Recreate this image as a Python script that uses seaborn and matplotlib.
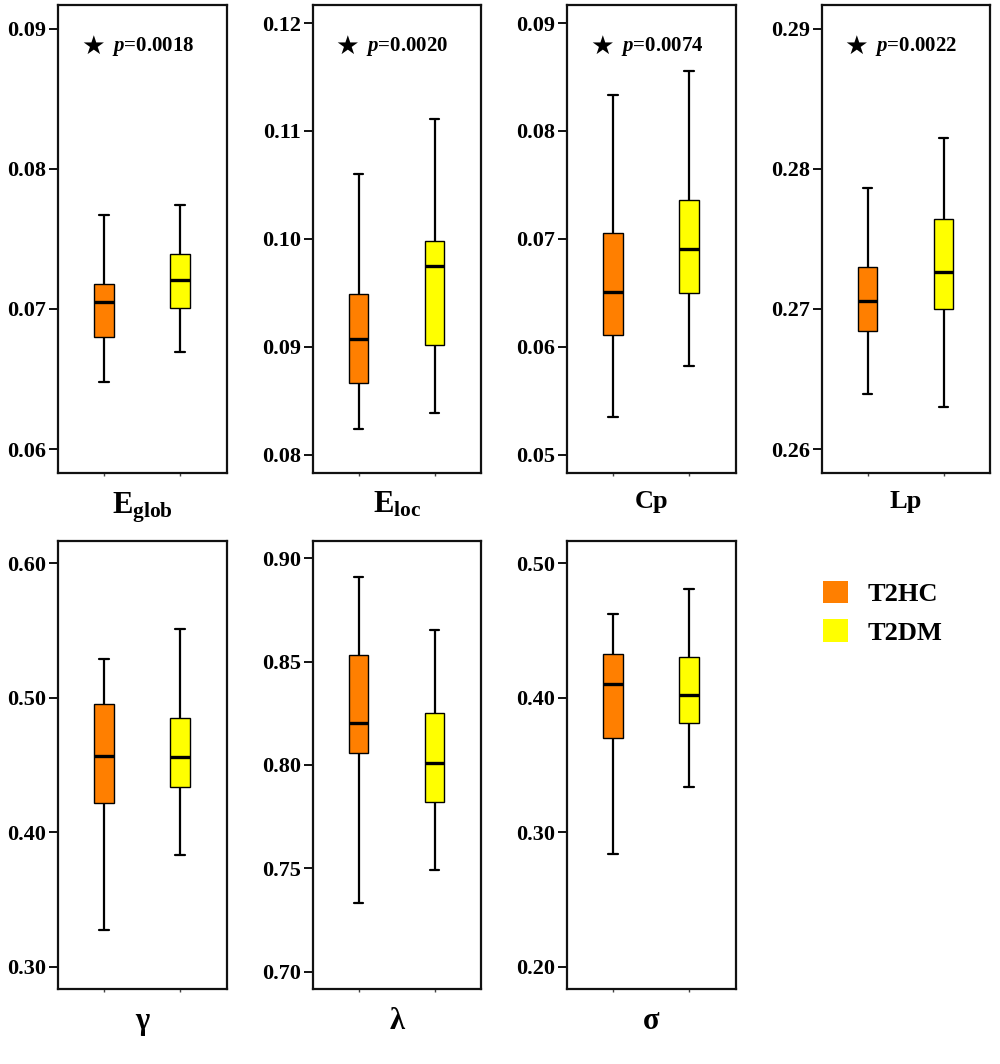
import numpy as np
import pandas as pd
import matplotlib.pyplot as plt
import seaborn as sns
from matplotlib.patches import Patch
from matplotlib.ticker import FormatStrFormatter

# metrics, in panel order
metric_keys = ['Eglob', 'Eloc', 'Cp', 'Lp', 'gamma', 'lambda', 'sigma']
metric_labels = [r'$\mathbf{E}_{\mathbf{glob}}$', r'$\mathbf{E}_{\mathbf{loc}}$',
                 'Cp', 'Lp', 'γ', 'λ', 'σ']
label_sizes = [22, 22, 19, 19, 22, 22, 22]
groups = ['T2HC', 'T2DM']
group_colors = ['#FF7F00', '#FFFF00']

# five-number summaries (min, Q1, median, Q3, max)
t2hc_min = [0.0648, 0.0824, 0.0535, 0.2639, 0.327, 0.7335, 0.284]
t2hc_q1 = [0.0680, 0.0866, 0.0611, 0.2684, 0.422, 0.8056, 0.370]
t2hc_median = [0.0705, 0.0907, 0.0651, 0.2706, 0.457, 0.8201, 0.410]
t2hc_q3 = [0.0718, 0.0949, 0.0705, 0.2730, 0.495, 0.8533, 0.4325]
t2hc_max = [0.0767, 0.1060, 0.0833, 0.2786, 0.529, 0.8909, 0.462]

t2dm_min = [0.0669, 0.0839, 0.0582, 0.2630, 0.383, 0.7493, 0.334]
t2dm_q1 = [0.0701, 0.0902, 0.0650, 0.2700, 0.434, 0.7823, 0.381]
t2dm_median = [0.0721, 0.0975, 0.0691, 0.2726, 0.456, 0.8008, 0.402]
t2dm_q3 = [0.0739, 0.0998, 0.0736, 0.2764, 0.485, 0.8253, 0.430]
t2dm_max = [0.0774, 0.1111, 0.0856, 0.2822, 0.551, 0.8652, 0.481]

p_values = ['0.0018', '0.0020', '0.0074', '0.0022', None, None, None]

y_ticks = [
    [0.06, 0.07, 0.08, 0.09],
    [0.08, 0.09, 0.10, 0.11, 0.12],
    [0.05, 0.06, 0.07, 0.08, 0.09],
    [0.26, 0.27, 0.28, 0.29],
    [0.30, 0.40, 0.50, 0.60],
    [0.70, 0.75, 0.80, 0.85, 0.90],
    [0.20, 0.30, 0.40, 0.50],
]

# long table: the five summary values per group reproduce the boxes exactly
rows = []
for i, key in enumerate(metric_keys):
    for g, stats in zip(groups, [
        (t2hc_min, t2hc_q1, t2hc_median, t2hc_q3, t2hc_max),
        (t2dm_min, t2dm_q1, t2dm_median, t2dm_q3, t2dm_max),
    ]):
        for s in stats:
            rows.append({'metric': key, 'group': g, 'value': s[i]})
df = pd.DataFrame(rows)

sns.set_theme(style='ticks')
plt.rcParams['font.family'] = ['Liberation Serif', 'DejaVu Serif']
plt.rcParams['font.weight'] = 'bold'
plt.rcParams['text.color'] = 'black'
plt.rcParams['axes.labelcolor'] = 'black'
plt.rcParams['mathtext.fontset'] = 'custom'
plt.rcParams['mathtext.rm'] = 'Liberation Serif'
plt.rcParams['mathtext.bf'] = 'Liberation Serif:bold'
plt.rcParams['mathtext.it'] = 'Liberation Serif:italic'

W, H = 1000, 1064
fig = plt.figure(figsize=(W / 100, H / 100), dpi=100)

col_left = [58.3, 312.7, 567.3, 821.7]
ax_w = 168.5
row_top = [5.0, 540.7]
row_bottom = [472.7, 989.3]

for i, key in enumerate(metric_keys):
    r, c = divmod(i, 4)
    rect = [col_left[c] / W, 1 - row_bottom[r] / H, ax_w / W,
            (row_bottom[r] - row_top[r]) / H]
    ax = fig.add_axes(rect)
    sub = df[df['metric'] == key]
    sns.boxplot(data=sub, x='group', y='value', hue='group', order=groups,
                hue_order=groups, palette=group_colors, saturation=1,
                width=0.26, whis=(0, 100), linecolor='black', linewidth=1.0,
                legend=False, ax=ax,
                medianprops={'linewidth': 2.4, 'color': 'black'},
                whiskerprops={'linewidth': 1.6},
                capprops={'linewidth': 1.6})

    ticks = y_ticks[i]
    step = ticks[1] - ticks[0]
    pad = step * 0.168
    ax.set_ylim(ticks[0] - pad, ticks[-1] + pad)
    ax.set_yticks(ticks)
    ax.yaxis.set_major_formatter(FormatStrFormatter('%.2f'))
    ax.set_xlim(-0.603, 1.614)
    ax.set_xticks([0, 1])
    ax.set_xticklabels(['', ''])
    ax.set_ylabel('')
    ax.set_xlabel(metric_labels[i], fontsize=label_sizes[i], fontweight='bold',
                  labelpad=7, color='black')

    for sp in ax.spines.values():
        sp.set_visible(True)
        sp.set_linewidth(1.6)
        sp.set_color('#111111')
    ax.tick_params(axis='y', direction='out', length=6.5, width=1.4, pad=2,
                   labelsize=16, colors='#111111', labelcolor='black')
    ax.tick_params(axis='x', direction='out', length=2, width=1.0,
                   colors='#444444')
    for lab in ax.get_yticklabels():
        lab.set_fontweight('bold')

    if p_values[i] is not None:
        ax.text(0.206, 0.911, '★', transform=ax.transAxes, ha='center',
                va='center', fontsize=19, family=['DejaVu Sans'], color='black')
        ax.text(0.317, 0.911, r'$p$=' + p_values[i], transform=ax.transAxes,
                ha='left', va='center', fontsize=15, fontweight='bold',
                color='black')

handles = [Patch(facecolor=col, edgecolor='none') for col in group_colors]
fig.legend(handles, groups, loc='upper left',
           bbox_to_anchor=(823 / W, 1 - 581 / H), frameon=False,
           prop={'family': 'Liberation Serif', 'weight': 'bold', 'size': 19},
           labelcolor='black',
           handlelength=0.93, handleheight=0.93, handletextpad=0.75,
           labelspacing=0.5, borderpad=0, borderaxespad=0)

fig.savefig('out.png', dpi=100)
